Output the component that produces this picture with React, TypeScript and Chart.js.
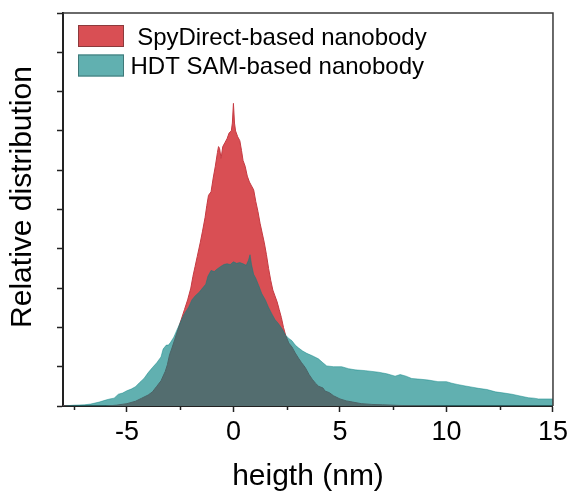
import React, { useEffect, useRef } from "react";
import { Chart, registerables } from "chart.js";

Chart.register(...registerables);

// ---- data ----
const spyX = [-8, -6, -5.5, -5.0, -4.6, -4.3, -4.0, -3.8, -3.6, -3.4, -3.2, -3.1, -3.0, -2.9, -2.75, -2.6, -2.45, -2.3, -2.15, -2.0, -1.9, -1.8, -1.7, -1.56, -1.45, -1.33, -1.25, -1.17, -1.05, -0.95, -0.85, -0.75, -0.7, -0.65, -0.58, -0.5, -0.4, -0.3, -0.2, -0.1, -0.05, 0.0, 0.05, 0.1, 0.2, 0.3, 0.38, 0.45, 0.55, 0.65, 0.75, 0.85, 0.95, 1.05, 1.15, 1.25, 1.35, 1.45, 1.55, 1.65, 1.75, 1.85, 1.95, 2.05, 2.15, 2.25, 2.35, 2.45, 2.6, 2.75, 2.9, 3.05, 3.2, 3.37, 3.55, 3.7, 3.85, 4.0, 4.2, 4.3, 4.5, 4.7, 5.0, 5.3, 5.6, 6.0, 6.5, 7.0, 8.0, 10.0, 15.0];
const spyY = [0, 0, 0.02, 0.06, 0.12, 0.2, 0.28, 0.36, 0.5, 0.64, 0.88, 1.05, 1.3, 1.45, 1.7, 1.95, 2.2, 2.45, 2.7, 3.0, 3.3, 3.55, 3.8, 4.15, 4.45, 4.8, 5.1, 5.36, 5.45, 5.8, 6.1, 6.45, 6.6, 6.55, 6.3, 6.6, 6.7, 6.8, 6.95, 7.0, 7.2, 7.7, 7.2, 7.0, 6.85, 6.75, 6.5, 6.25, 6.1, 5.85, 5.7, 5.6, 5.5, 5.2, 4.95, 4.65, 4.4, 4.15, 3.85, 3.5, 3.2, 2.95, 2.8, 2.65, 2.45, 2.25, 2.0, 1.8, 1.6, 1.5, 1.35, 1.22, 1.1, 0.98, 0.8, 0.68, 0.58, 0.5, 0.46, 0.38, 0.34, 0.26, 0.18, 0.13, 0.1, 0.06, 0.04, 0.03, 0.01, 0, 0];

const hdtX = [-8, -7.5, -7.0, -6.7, -6.3, -6.0, -5.8, -5.6, -5.4, -5.2, -5.0, -4.8, -4.6, -4.4, -4.2, -4.0, -3.8, -3.6, -3.4, -3.3, -3.15, -3.05, -2.95, -2.8, -2.6, -2.45, -2.3, -2.1, -1.95, -1.8, -1.6, -1.45, -1.3, -1.2, -1.05, -0.9, -0.78, -0.6, -0.45, -0.3, -0.15, 0.0, 0.15, 0.3, 0.45, 0.6, 0.7, 0.78, 0.85, 0.95, 1.05, 1.2, 1.33, 1.5, 1.64, 1.8, 1.95, 2.11, 2.3, 2.45, 2.6, 2.75, 2.9, 3.05, 3.25, 3.44, 3.7, 3.99, 4.2, 4.38, 4.7, 5.08, 5.4, 5.71, 6.2, 6.81, 7.2, 7.59, 7.83, 8.1, 8.37, 8.8, 9.15, 9.6, 10.0, 10.25, 10.5, 10.88, 11.2, 11.5, 11.9, 12.3, 12.7, 13.07, 13.5, 13.85, 14.1, 14.32, 15.0];
const hdtY = [0, 0.02, 0.03, 0.05, 0.1, 0.15, 0.18, 0.2, 0.3, 0.33, 0.39, 0.43, 0.49, 0.6, 0.7, 0.85, 0.98, 1.1, 1.25, 1.45, 1.55, 1.55, 1.62, 1.75, 2.0, 2.18, 2.35, 2.52, 2.7, 2.8, 2.9, 3.0, 3.1, 3.3, 3.45, 3.42, 3.48, 3.55, 3.6, 3.62, 3.6, 3.67, 3.63, 3.65, 3.62, 3.58, 3.7, 3.85, 3.6, 3.35, 3.25, 3.05, 2.86, 2.7, 2.52, 2.35, 2.2, 2.1, 1.95, 1.8, 1.72, 1.66, 1.55, 1.48, 1.4, 1.34, 1.28, 1.2, 1.1, 1.02, 1.0, 1.0, 0.95, 0.92, 0.9, 0.86, 0.82, 0.76, 0.8, 0.76, 0.7, 0.68, 0.66, 0.62, 0.62, 0.58, 0.55, 0.51, 0.48, 0.45, 0.42, 0.36, 0.33, 0.3, 0.25, 0.21, 0.2, 0.18, 0.18];

const seriesLabels = [" SpyDirect-based nanobody", "HDT SAM-based nanobody"];
const xTickValues = [-7.5, -5, -2.5, 0, 2.5, 5, 7.5, 10, 12.5, 15];
const xMajorTicks = [-5, 0, 5, 10, 15];
const yTickValues = [0, 1, 2, 3, 4, 5, 6, 7, 8, 9, 10];
const xTitle = "heigth (nm)";
const yTitle = "Relative distribution";

// ---- styles ----
const FONT = "'Liberation Sans', Arial, Helvetica, sans-serif";
const RED = "#d94f54";
const RED_LINE = "#c53a42";
const TEAL = "rgba(0,128,128,0.62)";
const TEAL_LINE = "rgba(0,128,128,0.45)";
const AXIS = "#222222";

const framePlugin = {
  id: "frame",
  afterDraw(chart: any) {
    const { ctx, chartArea } = chart;
    const { left, top, right, bottom } = chartArea;
    ctx.save();
    ctx.strokeStyle = "#3a3a3a";
    ctx.lineWidth = 1.5;
    ctx.beginPath();
    ctx.moveTo(left, top);
    ctx.lineTo(right, top);
    ctx.lineTo(right, bottom);
    ctx.stroke();
    // minor ticks on x axis
    const xs = chart.scales.x;
    ctx.strokeStyle = AXIS;
    ctx.lineWidth = 1.5;
    xTickValues.forEach((v) => {
      if (xMajorTicks.includes(v)) return;
      const px = Math.round(xs.getPixelForValue(v)) + 0.5;
      ctx.beginPath();
      ctx.moveTo(px, bottom);
      ctx.lineTo(px, bottom + 4);
      ctx.stroke();
    });
    ctx.restore();
  },
};

const legendPlugin = {
  id: "customLegend",
  afterDraw(chart: any) {
    const { ctx } = chart;
    const items = [
      { label: seriesLabels[0], fill: RED, border: "#8c3a3c", y: 25 },
      { label: seriesLabels[1], fill: TEAL, border: "#3f7878", y: 54.5 },
    ];
    ctx.save();
    ctx.font = `24px ${FONT}`;
    ctx.textBaseline = "alphabetic";
    ctx.textAlign = "left";
    items.forEach((it) => {
      ctx.fillStyle = it.fill;
      ctx.fillRect(78, it.y, 46, 22);
      ctx.strokeStyle = it.border;
      ctx.lineWidth = 1;
      ctx.strokeRect(78.5, it.y + 0.5, 45, 21);
      ctx.fillStyle = "#000";
      ctx.fillText(it.label, 130.5, it.y + 19.5);
    });
    ctx.restore();
  },
};

export default function App() {
  const canvasRef = useRef<HTMLCanvasElement | null>(null);

  useEffect(() => {
    if (!canvasRef.current) return;
    const spyData = spyX.map((x, i) => ({ x, y: spyY[i] }));
    const hdtData = hdtX.map((x, i) => ({ x, y: hdtY[i] }));

    const chart = new Chart(canvasRef.current, {
      type: "line",
      data: {
        datasets: [
          {
            label: seriesLabels[1],
            data: hdtData,
            backgroundColor: TEAL,
            borderColor: TEAL_LINE,
            borderWidth: 1,
            fill: "origin",
            pointRadius: 0,
            tension: 0,
            order: 0,
          },
          {
            label: seriesLabels[0],
            data: spyData,
            backgroundColor: RED,
            borderColor: RED_LINE,
            borderWidth: 1,
            fill: "origin",
            pointRadius: 0,
            tension: 0,
            order: 1,
          },
        ],
      },
      options: {
        animation: false,
        responsive: true,
        maintainAspectRatio: false,
        layout: { padding: { left: 0, top: 13, right: 19, bottom: 0 } },
        plugins: {
          legend: { display: false },
          tooltip: { enabled: false },
        },
        scales: {
          x: {
            type: "linear",
            min: -8,
            max: 15,
            afterBuildTicks: (scale: any) => {
              scale.ticks = xTickValues.map((v) => ({ value: v }));
            },
            afterFit: (scale: any) => {
              scale.height = 90;
            },
            ticks: {
              autoSkip: false,
              maxRotation: 0,
              padding: 4,
              color: "#000",
              font: { family: FONT, size: 27 },
              callback: (v: any) => (xMajorTicks.includes(Number(v)) ? String(v) : ""),
            },
            grid: {
              display: true,
              drawOnChartArea: false,
              drawTicks: true,
              tickLength: 6,
              tickWidth: 1.5,
              tickColor: (c: any) =>
                c.tick && xMajorTicks.includes(c.tick.value) ? AXIS : "rgba(0,0,0,0)",
            },
            border: { display: true, color: AXIS, width: 2 },
            title: {
              display: true,
              text: xTitle,
              color: "#000",
              font: { family: FONT, size: 30 },
              padding: { top: 0, bottom: 1 },
            },
          },
          y: {
            type: "linear",
            min: 0,
            max: 10,
            afterBuildTicks: (scale: any) => {
              scale.ticks = yTickValues.map((v) => ({ value: v }));
            },
            afterFit: (scale: any) => {
              scale.width = 63;
            },
            ticks: { display: false },
            grid: {
              display: true,
              drawOnChartArea: false,
              drawTicks: true,
              tickLength: 6,
              tickWidth: 1.5,
              tickColor: AXIS,
            },
            border: { display: true, color: AXIS, width: 2 },
            title: {
              display: true,
              text: "   " + yTitle,
              color: "#000",
              font: { family: FONT, size: 30 },
              padding: { top: 5, bottom: 0 },
            },
          },
        },
      },
      plugins: [framePlugin, legendPlugin],
    });

    return () => {
      chart.destroy();
    };
  }, []);

  return (
    <div
      style={{
        position: "absolute",
        left: 0,
        top: 0,
        width: 572,
        height: 496,
        background: "#fff",
      }}
    >
      <canvas ref={canvasRef} />
    </div>
  );
}
